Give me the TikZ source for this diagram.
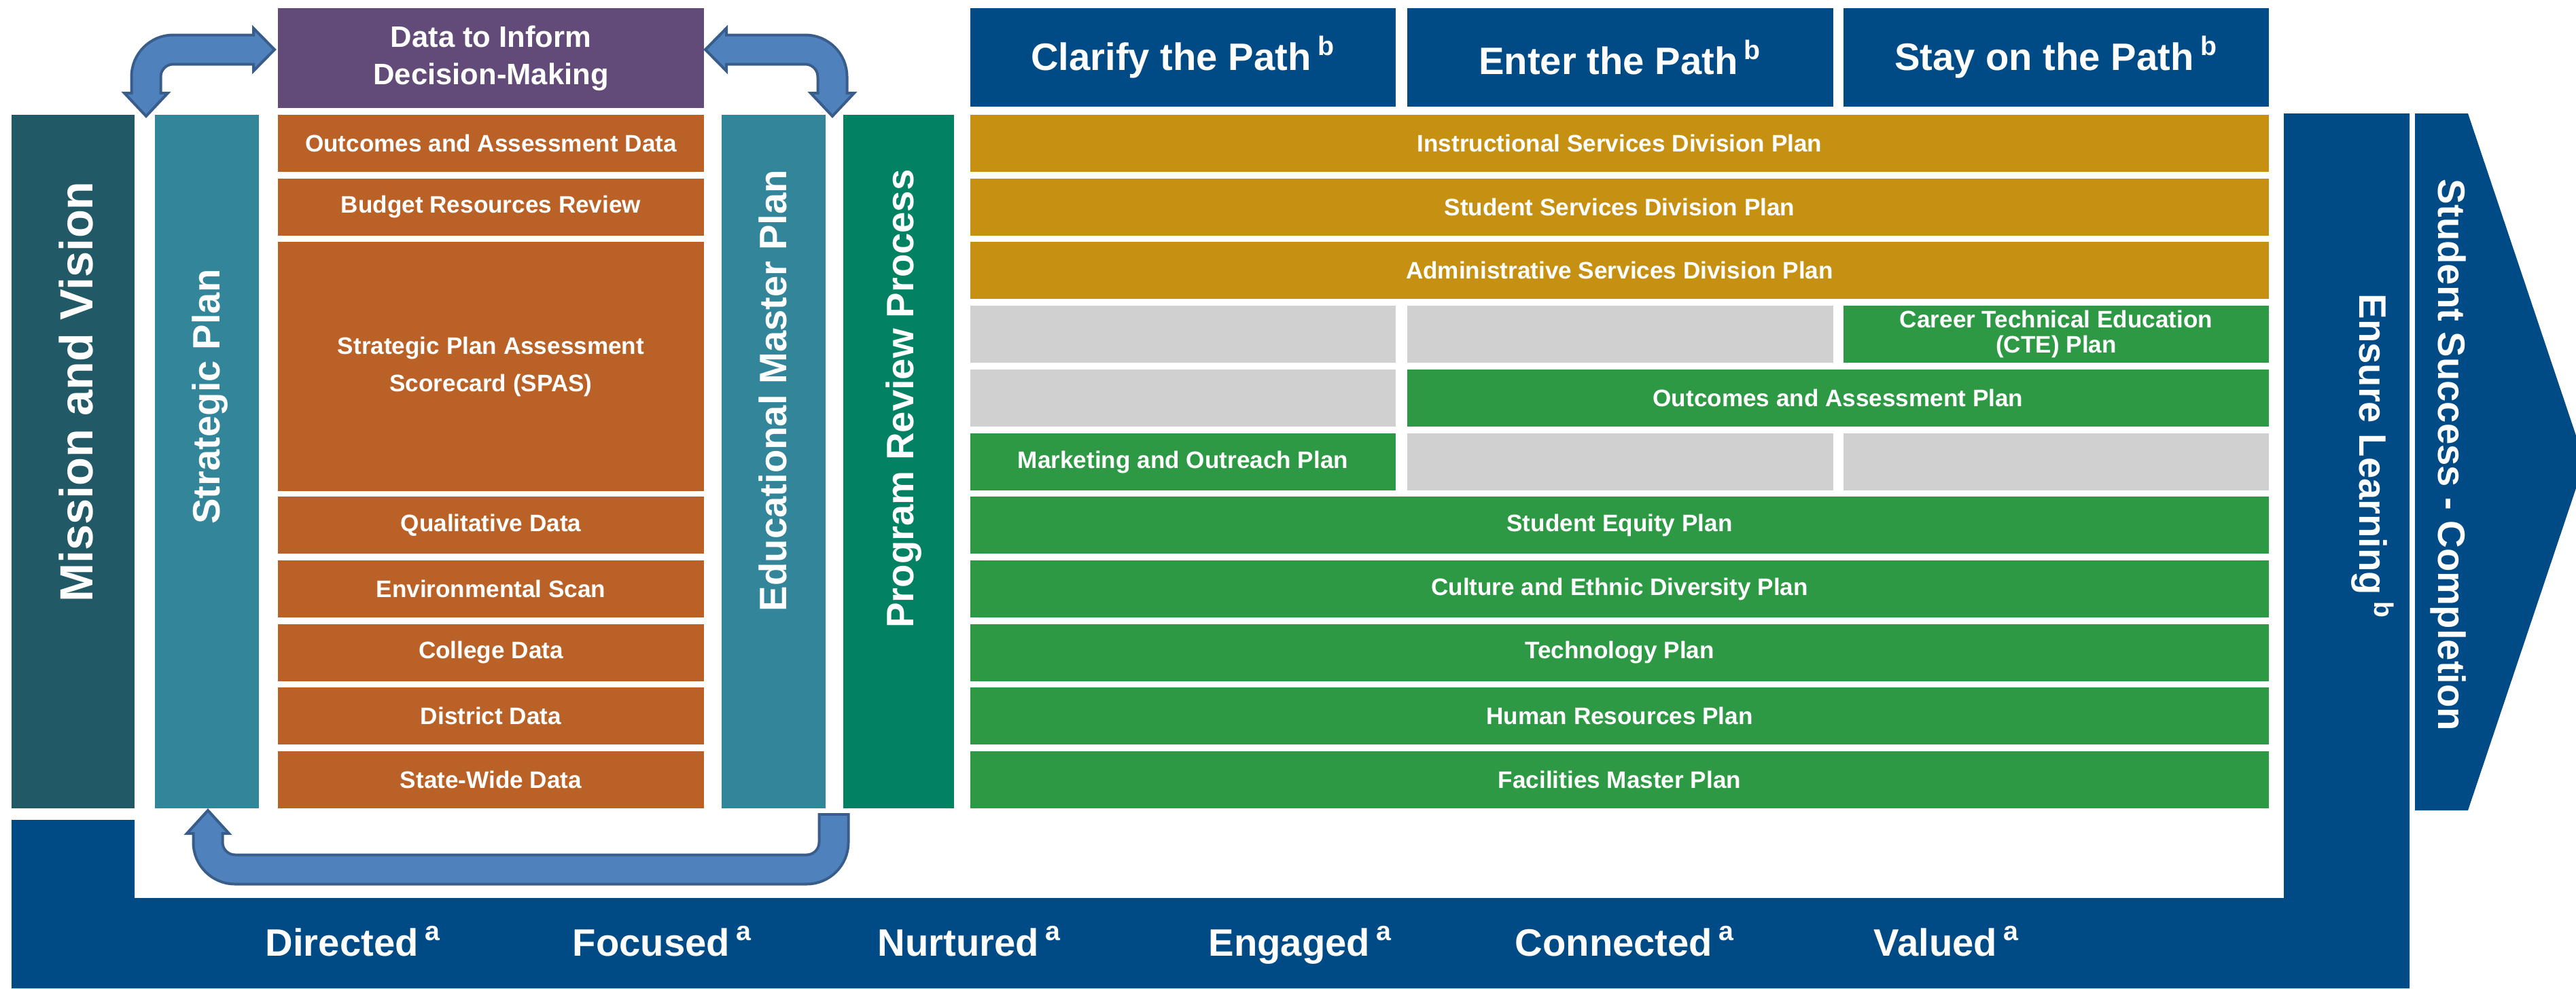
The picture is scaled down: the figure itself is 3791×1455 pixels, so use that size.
\documentclass[tikz,border=0pt]{standalone}
\usepackage{fontspec}
\setmainfont{Liberation Sans}
\usetikzlibrary{positioning}

\definecolor{navy}{RGB}{0,74,134}
\definecolor{mvteal}{RGB}{34,89,102}
\definecolor{planteal}{RGB}{51,134,154}
\definecolor{prgreen}{RGB}{2,129,99}
\definecolor{datapurple}{RGB}{99,75,121}
\definecolor{rust}{RGB}{185,97,38}
\definecolor{gold}{RGB}{198,145,18}
\definecolor{plangreen}{RGB}{46,153,68}
\definecolor{blank}{RGB}{208,208,208}
\definecolor{arrfill}{RGB}{79,129,189}
\definecolor{arrline}{RGB}{56,93,138}

\newcommand{\smallfont}{\fontsize{10}{15.6}\selectfont\bfseries}
\newcommand{\bigfont}{\fontsize{16}{19}\selectfont\bfseries}
\newcommand{\tagsup}[1]{\,\textsuperscript{#1}}
% box: style, name, top left corner, width (mm), height (mm), text
\newcommand{\blk}[6]{\node[cell,#1,minimum width=#4mm,minimum height=#5mm] (#2) at (#3) {#6};}

\tikzset{
  cell/.style={anchor=north west, inner sep=0pt, outer sep=0pt, text=white,
               align=center, font=\smallfont},
  vlabel/.style={text=white, inner sep=0pt, anchor=base, font=\bigfont},
  shaftout/.style={draw=arrline, line width=4.7mm, rounded corners=4mm},
  shaftin/.style={draw=arrfill, line width=3.9mm, rounded corners=4mm},
  arrhead/.style={fill=arrfill, draw=arrline, line width=0.4mm}
}

\begin{document}
\begin{tikzpicture}[x=0.1mm, y=-0.1mm]
\useasboundingbox (0,0) rectangle (3791,1455);

% navy frame with Ensure Learning column
\fill[navy] (17,1207) -- (198,1207) -- (198,1322) -- (3361,1322) -- (3361,167)
  -- (3546,167) -- (3546,1455) -- (17,1455) -- cycle;
\begin{scope}
\clip (0,0) rectangle (3791,1455);
\fill[navy] (3554,167) -- (3632,167) -- (3804,680) -- (3632,1193) -- (3554,1193) -- cycle;
\end{scope}

% columns
\blk{fill=mvteal}{mv}{17,169}{18.1}{102.1}{}
\blk{fill=planteal}{sp}{228,169}{15.3}{102.1}{}
\blk{fill=planteal}{emp}{1062,169}{15.3}{102.1}{}
\blk{fill=prgreen}{prp}{1241,169}{16.3}{102.1}{}
\blk{fill=datapurple, font=\fontsize{12.4}{15.6}\selectfont\bfseries}{data}{409,12}{62.7}{14.7}{Data to Inform\\Decision-Making}

\node[vlabel, rotate=90, font=\fontsize{19.5}{22}\selectfont\bfseries] (mvtxt) at (136,577) {Mission and Vision};
\node[vlabel, rotate=90] (sptxt) at (323,584) {Strategic Plan};
\node[vlabel, rotate=90] (emptxt) at (1157,575) {Educational Master Plan};
\node[vlabel, rotate=90] (prptxt) at (1344,587) {Program Review Process};
\node[vlabel, rotate=-90] (eltxt) at (3472,672) {Ensure Learning\tagsup{b}};
\node[vlabel, rotate=-90] (sstxt) at (3588,670) {Student Success - Completion};

% data column
\foreach \i/\txt in {0/Outcomes and Assessment Data, 1/Budget Resources Review,
    6/Qualitative Data, 7/Environmental Scan, 8/College Data, 9/District Data,
    10/State-Wide Data} {
  \pgfmathsetmacro\yy{169+93.7*\i}
  \blk{fill=rust}{o\i}{409,\yy}{62.7}{8.4}{\txt}
}
\blk{fill=rust}{o2}{409,356}{62.7}{36.7}{Strategic Plan Assessment\\Scorecard (SPAS)}

% path headers
\blk{fill=navy, font=\bigfont}{clar}{1428,12}{62.6}{14.5}{Clarify the Path\tagsup{b}}
\blk{fill=navy, font=\bigfont}{enter}{2071,12}{62.7}{14.5}{Enter the Path\tagsup{b}}
\blk{fill=navy, font=\bigfont}{stay}{2713,12}{62.6}{14.5}{Stay on the Path\tagsup{b}}

% plans
\foreach \i/\txt in {0/Instructional Services Division Plan,
    1/Student Services Division Plan, 2/Administrative Services Division Plan} {
  \pgfmathsetmacro\yy{169+93.7*\i}
  \blk{fill=gold}{g\i}{1428,\yy}{191.1}{8.4}{\txt}
}
\blk{fill=blank}{b31}{1428,450}{62.6}{8.4}{}
\blk{fill=blank}{b32}{2071,450}{62.7}{8.4}{}
\blk{fill=plangreen, font=\fontsize{10}{10.5}\selectfont\bfseries}{cte}{2713,450}{62.6}{8.4}{Career Technical Education\\(CTE) Plan}
\blk{fill=blank}{b41}{1428,544}{62.6}{8.4}{}
\blk{fill=plangreen}{oap}{2071,544}{126.8}{8.4}{Outcomes and Assessment Plan}
\blk{fill=plangreen}{mop}{1428,638}{62.6}{8.4}{Marketing and Outreach Plan}
\blk{fill=blank}{b52}{2071,638}{62.7}{8.4}{}
\blk{fill=blank}{b53}{2713,638}{62.6}{8.4}{}
\foreach \i/\txt in {6/Student Equity Plan, 7/Culture and Ethnic Diversity Plan,
    8/Technology Plan, 9/Human Resources Plan, 10/Facilities Master Plan} {
  \pgfmathsetmacro\yy{169+93.7*\i}
  \blk{fill=plangreen}{p\i}{1428,\yy}{191.1}{8.4}{\txt}
}

% values along the bottom
\foreach \x/\txt [count=\k] in {390/Directed, 842/Focused, 1291/Nurtured,
    1778/Engaged, 2229/Connected, 2757/Valued} {
  \node[vlabel, anchor=base west] (val\k) at (\x,1407) {\txt\tagsup{a}};
}

% arrows
\coordinate (lA) at (373,73);
\coordinate (lB) at (215,73);
\coordinate (lC) at (215,137);
\draw[shaftout] (lA) -- (lB) -- (lC);
\draw[arrhead] (lA) ++(0,-31.5) -- ++(31,31.5) -- ++(-31,31.5) -- cycle;
\draw[arrhead] (lC) ++(-32,0) -- ++(32,34) -- ++(32,-34) -- cycle;
\draw[shaftin] ([xshift=0.3mm]lA) -- (lB) -- ([yshift=-0.3mm]lC);

\coordinate (rA) at (1069,73);
\coordinate (rB) at (1225,73);
\coordinate (rC) at (1225,137);
\draw[shaftout] (rA) -- (rB) -- (rC);
\draw[arrhead] (rA) ++(0,-31.5) -- ++(-31,31.5) -- ++(31,31.5) -- cycle;
\draw[arrhead] (rC) ++(-32,0) -- ++(32,34) -- ++(32,-34) -- cycle;
\draw[shaftin] ([xshift=-0.3mm]rA) -- (rB) -- ([yshift=-0.3mm]rC);

\coordinate (bA) at (306,1227);
\coordinate (bB) at (306,1280);
\coordinate (bC) at (1227,1280);
\coordinate (bD) at (1227,1197);
\draw[shaftout] (bA) -- (bB) -- (bC) -- (bD);
\draw[arrhead] (bA) ++(-31,0) -- ++(31,-34) -- ++(31,34) -- cycle;
\draw[shaftin] ([yshift=0.3mm]bA) -- (bB) -- (bC) -- ([yshift=-0.4mm]bD);

\end{tikzpicture}
\end{document}
